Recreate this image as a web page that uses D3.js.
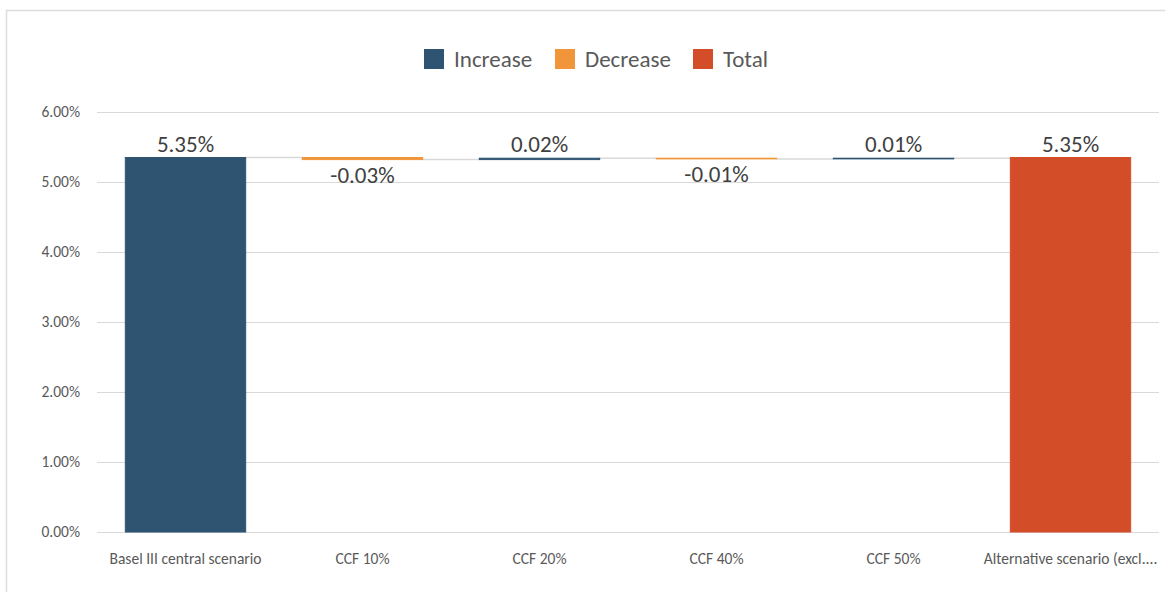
<!DOCTYPE html>
<html>
<head>
<meta charset="utf-8">
<script src="https://cdn.jsdelivr.net/npm/d3@7"></script>
<style>
  html, body { margin: 0; padding: 0; background: #ffffff; }
  svg { display: block; }
  svg text { font-family: Carlito, Lato, "Open Sans", sans-serif; }
</style>
</head>
<body>
<svg id="chart" width="1165" height="592"></svg>
<script>
// Waterfall steps: the opening total, the CCF adjustments, the closing total
const categories = ["Basel III central scenario", "CCF 10%", "CCF 20%", "CCF 40%", "CCF 50%", "Alternative scenario (excl...."];
const values = [5.35, -0.03, 0.02, -0.01, 0.01, 5.35];
const kinds = ["total0", "step", "step", "step", "step", "total"];
const valueLabels = ["5.35%", "-0.03%", "0.02%", "-0.01%", "0.01%", "5.35%"];
const yTicks = [0, 1, 2, 3, 4, 5, 6];
const legendItems = ["Increase", "Decrease", "Total"];

const colors = { Increase: "#2e5472", Decrease: "#f0953a", Total: "#d34e28" };

const svg = d3.select("#chart");
const W = 1165, H = 592;
const plot = { left: 97, right: 1159, top: 112, bottom: 532 };

// Outer frame of the chart area
svg.append("path")
  .attr("d", `M${W + 5},10.5 H6.5 V${H + 5}`)
  .attr("fill", "none")
  .attr("stroke", "#dcdcdc")
  .attr("stroke-width", 1.5);

const x = d3.scaleBand()
  .domain(categories)
  .range([plot.left, plot.right])
  .paddingInner(0.32)
  .paddingOuter(0.16);

const y = d3.scaleLinear()
  .domain([0, 6])
  .range([plot.bottom, plot.top]);

// Gridlines
svg.append("g")
  .selectAll("line")
  .data(yTicks)
  .join("line")
  .attr("x1", plot.left)
  .attr("x2", plot.right)
  .attr("y1", d => Math.round(y(d)) + 0.5)
  .attr("y2", d => Math.round(y(d)) + 0.5)
  .attr("stroke", "#d9d9d9")
  .attr("stroke-width", 1);

// Y axis labels
const yAxis = d3.axisLeft(y)
  .tickValues(yTicks)
  .tickFormat(d => d3.format(".2f")(d) + "%")
  .tickSize(0)
  .tickPadding(17);
const yg = svg.append("g")
  .attr("transform", `translate(${plot.left},0)`)
  .call(yAxis)
  .attr("font-family", null);
yg.select(".domain").remove();
yg.selectAll("text")
  .attr("fill", "#595959")
  .style("font-size", "15.5px");

// X axis labels
const xAxis = d3.axisBottom(x).tickSize(0).tickPadding(21);
const xg = svg.append("g")
  .attr("transform", `translate(0,${plot.bottom})`)
  .call(xAxis)
  .attr("font-family", null);
xg.select(".domain").remove();
xg.selectAll("text")
  .attr("fill", "#595959")
  .style("font-size", "15.5px");

// Running totals for each step
const rows = [];
let running = 0;
categories.forEach((c, i) => {
  const v = values[i];
  let start, end, color;
  if (kinds[i] === "total0") {
    start = 0; end = v; running = v; color = colors.Increase;
  } else if (kinds[i] === "total") {
    start = 0; end = v; color = colors.Total;
  } else {
    start = running; end = running + v; running = end;
    color = v >= 0 ? colors.Increase : colors.Decrease;
  }
  rows.push({ cat: c, value: v, start, end, color, label: valueLabels[i] });
});

// Connector lines between consecutive bars
const conn = svg.append("g");
rows.slice(0, -1).forEach((r, i) => {
  const nx = rows[i + 1];
  const yy = y(r.end);
  conn.append("line")
    .attr("x1", x(r.cat) + x.bandwidth())
    .attr("x2", x(nx.cat))
    .attr("y1", yy)
    .attr("y2", yy)
    .attr("stroke", "#d9d9d9")
    .attr("stroke-width", 1.5);
});

// Bars
svg.append("g")
  .selectAll("rect")
  .data(rows)
  .join("rect")
  .attr("x", d => x(d.cat))
  .attr("width", x.bandwidth())
  .attr("y", d => y(Math.max(d.start, d.end)))
  .attr("height", d => Math.abs(y(d.start) - y(d.end)))
  .attr("fill", d => d.color)
  .attr("stroke", d => d.color)
  .attr("stroke-width", 1);

// Value labels: above rising bars, below falling bars
svg.append("g")
  .selectAll("text")
  .data(rows)
  .join("text")
  .attr("x", d => x(d.cat) + x.bandwidth() / 2)
  .attr("y", d => d.value >= 0 ? y(Math.max(d.start, d.end)) - 6 : y(Math.min(d.start, d.end)) + 23)
  .attr("text-anchor", "middle")
  .attr("fill", "#404040")
  .style("font-size", "23px")
  .text(d => d.label);

// Legend
const legend = svg.append("g").attr("transform", "translate(424,49)");
const legendColors = [colors.Increase, colors.Decrease, colors.Total];
const legendX = [0, 131, 269];
legendItems.forEach((name, i) => {
  const g = legend.append("g").attr("transform", `translate(${legendX[i]},0)`);
  g.append("rect").attr("width", 20).attr("height", 20).attr("fill", legendColors[i]);
  g.append("text")
    .attr("x", 30)
    .attr("y", 18)
    .attr("fill", "#595959")
    .style("font-size", "23px")
    .text(name);
});
</script>
</body>
</html>
